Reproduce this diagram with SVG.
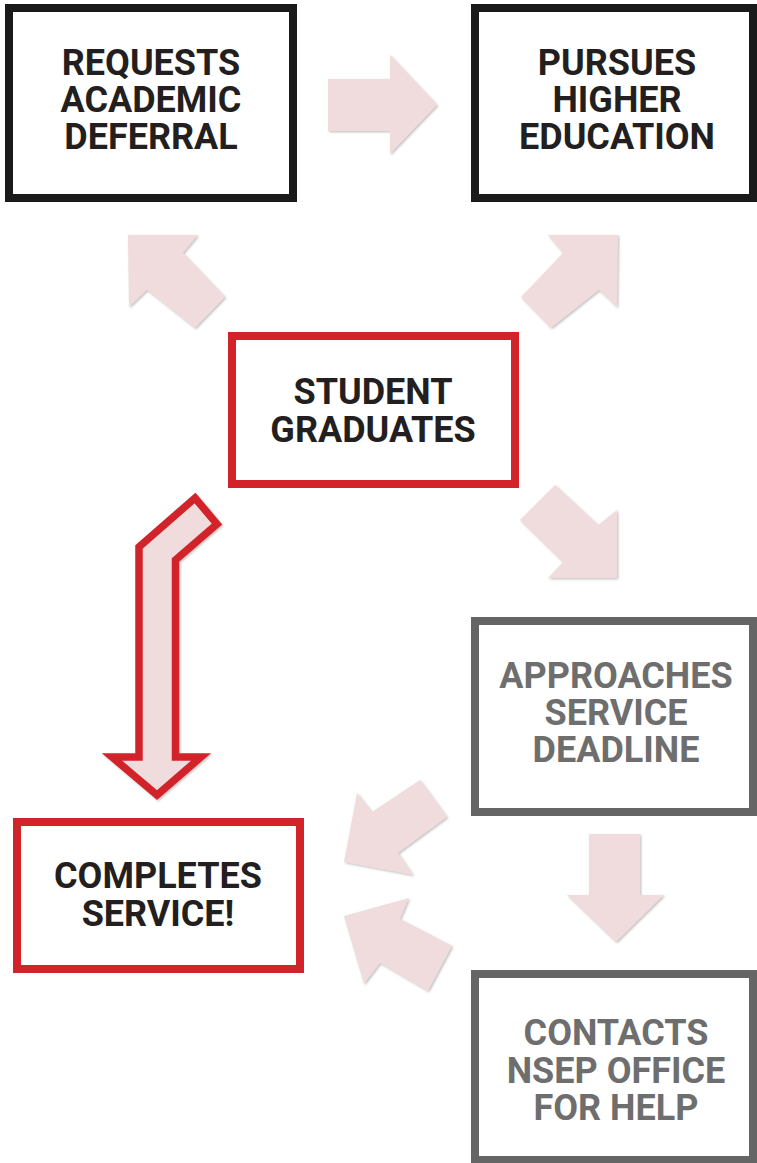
<svg xmlns="http://www.w3.org/2000/svg" width="757" height="1163" viewBox="0 0 757 1163">
<defs>
<filter id="sh" x="-10%" y="-10%" width="125%" height="125%">
<feDropShadow dx="1.2" dy="1.2" stdDeviation="0.8" flood-color="#8a8a8a" flood-opacity="0.55"/>
</filter>
<style>
.pk{fill:#f0dcdc;filter:url(#sh);}
.bk{fill:#fff;stroke:#1a1a1a;stroke-width:8;}
.rd{fill:#fff;stroke:#d2232a;stroke-width:8;}
.gy{fill:#fff;stroke:#656565;stroke-width:8;}
text{font-family:Roboto,"Liberation Sans",sans-serif;font-weight:700;font-size:36px;text-anchor:middle;}
.tk{fill:#231f20;}
.tg{fill:#6e6e6e;}
</style>
</defs>
<rect width="757" height="1163" fill="#fff"/>
<g id="connectors">
<polygon class="pk" points="328,79 390,79 390,55 437,105 390,154 390,131 328,131"/>
<polygon class="pk" points="128,235 198,235 183,253 225,297 195,328 147,290 129,307"/>
<polygon class="pk" points="618,235 548,235 563,253 521,297 551,328 599,290 617,307"/>
<polygon class="pk" points="555,485 598,525 617,510 617,578 548,578 563,562 520,520"/>
<polygon class="pk" points="589,834 640,834 640,895 664,895 616,942 567,895 589,895"/>
<polygon class="pk" points="420,780 447,817 398,853 413,875 344,862 357,793 372,812"/>
<polygon class="pk" points="344,916 409,898 400,919 452,946 428,991 380,963 364,984"/>
<polygon points="195,498 217,524 175.5,560 175.5,757 201,757 157,795 112,757 139,757 139,547" fill="#f0dcdc" stroke="#d2232a" stroke-width="7.5" stroke-linejoin="miter" filter="url(#sh)"/>
</g>
<g id="n-requests">
<rect class="bk" x="9" y="8" width="284" height="190"/>
<text class="tk"><tspan x="151" y="75">REQUESTS</tspan><tspan x="151" y="112">ACADEMIC</tspan><tspan x="151" y="149">DEFERRAL</tspan></text>
</g>
<g id="n-pursues">
<rect class="bk" x="475" y="8" width="278" height="190"/>
<text class="tk"><tspan x="617" y="75">PURSUES</tspan><tspan x="617" y="112">HIGHER</tspan><tspan x="617" y="149">EDUCATION</tspan></text>
</g>
<g id="n-graduates">
<rect class="rd" x="232" y="336" width="283" height="148"/>
<text class="tk"><tspan x="373" y="404">STUDENT</tspan><tspan x="373" y="442">GRADUATES</tspan></text>
</g>
<g id="n-deadline">
<rect class="gy" x="475" y="621" width="278" height="191"/>
<text class="tg"><tspan x="616" y="688">APPROACHES</tspan><tspan x="616" y="725">SERVICE</tspan><tspan x="616" y="762">DEADLINE</tspan></text>
</g>
<g id="n-contacts">
<rect class="gy" x="475" y="974" width="278" height="186"/>
<text class="tg"><tspan x="616" y="1045">CONTACTS</tspan><tspan x="616" y="1083">NSEP OFFICE</tspan><tspan x="616" y="1120">FOR HELP</tspan></text>
</g>
<g id="n-completes">
<rect class="rd" x="17" y="822" width="283" height="147"/>
<text class="tk"><tspan x="158" y="888">COMPLETES</tspan><tspan x="158" y="926">SERVICE!</tspan></text>
</g>
</svg>
